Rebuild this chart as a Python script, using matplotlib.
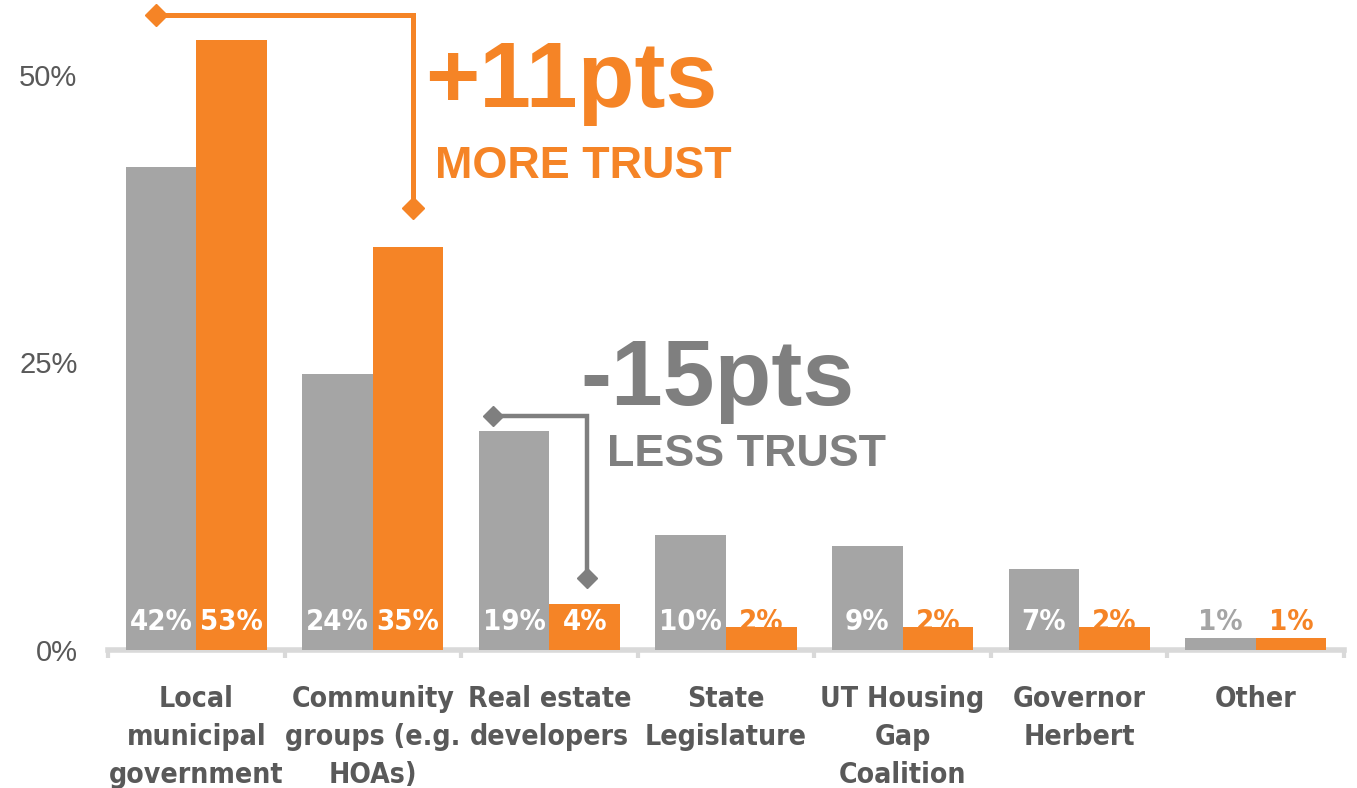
import matplotlib
matplotlib.use("Agg")
import matplotlib.pyplot as plt
from matplotlib import font_manager as fm

categories = ["Local\nmunicipal\ngovernment", "Community\ngroups (e.g.\nHOAs)",
              "Real estate\ndevelopers", "State\nLegislature", "UT Housing\nGap\nCoalition",
              "Governor\nHerbert", "Other"]
before = [42, 24, 19, 10, 9, 7, 1]
after = [53, 35, 4, 2, 2, 2, 1]
yticks = [0, 25, 50]
ytick_labels = ["0%", "25%", "50%"]

GRAY = "#a5a5a5"
ORANGE = "#f58426"
DARK = "#595959"
ANN_GRAY = "#7f7f7f"
AXIS = "#d9d9d9"

# pick a condensed bold font if one is installed
cond = None
for f in fm.fontManager.ttflist:
    nm = f.name.lower()
    st = str(f.stretch).lower()
    is_cond = ("condensed" in nm or "narrow" in nm or "condensed" in st
               or (isinstance(f.stretch, int) and f.stretch < 500))
    w = f.weight if isinstance(f.weight, int) else (700 if "bold" in str(f.weight) else 400)
    if is_cond and w >= 600 and not f.style.startswith(("italic", "oblique")):
        cond = f.fname
        break
WIDE = "Liberation Sans"
if cond:
    LABEL_FP = dict(fontproperties=fm.FontProperties(fname=cond))
    CAT_SIZE, VAL_SIZE = 20.3, 21
else:
    LABEL_FP = dict(family=WIDE, fontweight="bold")
    CAT_SIZE, VAL_SIZE = 20.5, 21

W, H = 1357, 788
fig = plt.figure(figsize=(W / 100, H / 100), dpi=100)
ax = fig.add_axes([108 / W, (H - 650) / H, (1344 - 108) / W, 650 / H])

n = len(categories)
xs = list(range(n))
bw = 0.4
gx = [x - bw / 2 for x in xs]
ox = [x + bw / 2 for x in xs]
ax.bar(gx, before, width=bw, color=GRAY, zorder=2)
ax.bar(ox, after, width=bw, color=ORANGE, zorder=2)

ax.set_xlim(-0.5, n - 0.5)
ax.set_ylim(0, 56.5)

for xpos, vals, col in ((gx, before, GRAY), (ox, after, ORANGE)):
    for x, v in zip(xpos, vals):
        c = "white" if v > 3 else col
        t = ax.annotate(f"{v}%", xy=(x, 0), xytext=(0, 20.5), textcoords="offset points",
                        ha="center", va="center", color=c, zorder=3, **LABEL_FP)
        t.set_fontsize(VAL_SIZE)

for s in ["top", "right", "left"]:
    ax.spines[s].set_visible(False)
ax.spines["bottom"].set_color(AXIS)
ax.spines["bottom"].set_linewidth(4)
ax.spines["bottom"].set_zorder(1)

ax.set_yticks(yticks)
ax.set_yticklabels(ytick_labels, fontsize=21, color=DARK, family=WIDE)
ax.tick_params(axis="y", length=0, pad=22)

ax.set_xticks(xs)
labs = ax.set_xticklabels(categories, color=DARK, linespacing=1.47, **LABEL_FP)
for t in labs:
    t.set_fontsize(CAT_SIZE)
ax.tick_params(axis="x", which="major", length=0, pad=25)
ax.set_xticks([x - 0.5 for x in range(n + 1)], minor=True)
ax.tick_params(axis="x", which="minor", length=6, width=3, color=AXIS, direction="out")

# connector: more trust
up_y_top = after[0] + 2.2
up_y_end = after[1] + 3.4
ax.plot([gx[0] - 0.03, ox[1] + 0.03, ox[1] + 0.03], [up_y_top, up_y_top, up_y_end],
        color=ORANGE, lw=3.6, solid_joinstyle="miter", clip_on=False, zorder=4)
ax.plot([gx[0] - 0.03, ox[1] + 0.03], [up_y_top, up_y_end], ls="none", marker="D",
        ms=11, color=ORANGE, clip_on=False, zorder=5)

# connector: less trust
dn_y_top = before[2] + 1.3
dn_y_end = after[2] + 2.3
ax.plot([gx[2] - 0.12, ox[2] + 0.01, ox[2] + 0.01], [dn_y_top, dn_y_top, dn_y_end],
        color=ANN_GRAY, lw=3.2, solid_joinstyle="miter", zorder=4)
ax.plot([gx[2] - 0.12, ox[2] + 0.01], [dn_y_top, dn_y_end], ls="none", marker="D",
        ms=10, color=ANN_GRAY, zorder=5)

fig.text(425 / W, 1 - 107 / H, "+11pts", color=ORANGE, fontsize=67, fontweight="bold",
         family=WIDE, ha="left", va="baseline")
fig.text(435 / W, 1 - 178 / H, "MORE TRUST", color=ORANGE, fontsize=32.3, fontweight="bold",
         family=WIDE, ha="left", va="baseline")
fig.text(580 / W, 1 - 405 / H, "-15pts", color=ANN_GRAY, fontsize=67, fontweight="bold",
         family=WIDE, ha="left", va="baseline")
fig.text(607 / W, 1 - 466 / H, "LESS TRUST", color=ANN_GRAY, fontsize=32.3, fontweight="bold",
         family=WIDE, ha="left", va="baseline")

fig.savefig("out.png", dpi=100)
